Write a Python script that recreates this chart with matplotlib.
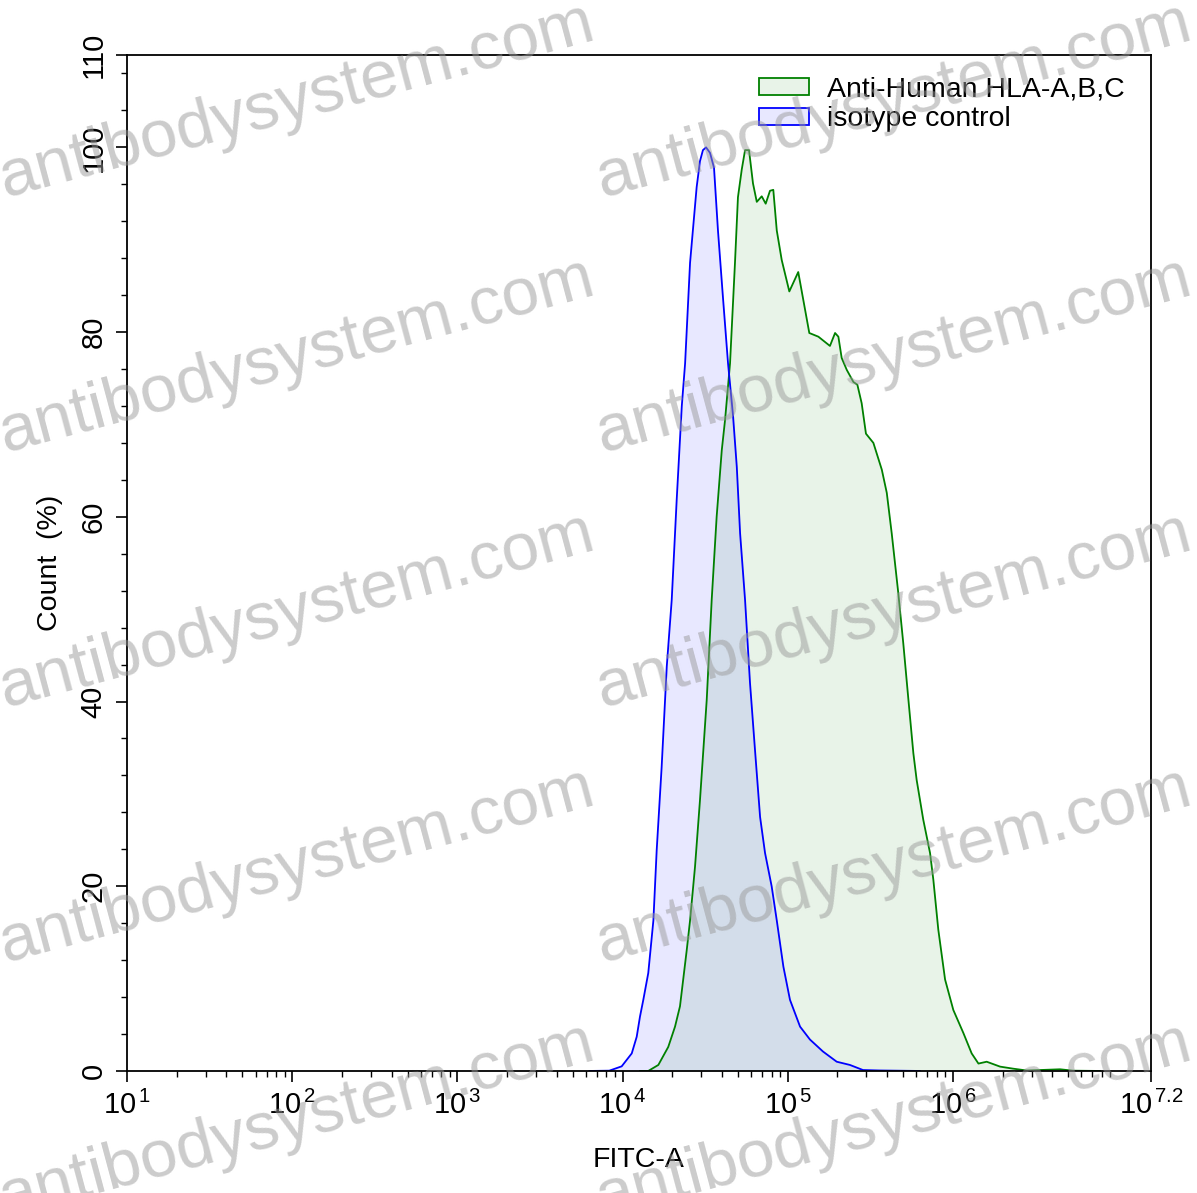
import numpy as np
import matplotlib
matplotlib.use("Agg")
import matplotlib.pyplot as plt
from matplotlib.ticker import FixedLocator, MultipleLocator, LogLocator, NullFormatter
from matplotlib.patches import Patch

plt.rcParams['font.family'] = ['Liberation Sans', 'DejaVu Sans']
plt.rcParams['mathtext.fontset'] = 'custom'
plt.rcParams['mathtext.rm'] = 'Liberation Sans'
plt.rcParams['mathtext.it'] = 'Liberation Sans'

# data (x given as log10 of FITC-A)
iso_log = [3.80, 3.92, 3.995, 4.056, 4.086, 4.106, 4.126, 4.156, 4.187, 4.207, 4.237, 4.268,
           4.298, 4.328, 4.359, 4.379, 4.409, 4.449, 4.469, 4.487, 4.506, 4.530, 4.554, 4.578,
           4.608, 4.639, 4.669, 4.692, 4.712, 4.742, 4.772, 4.802, 4.833, 4.863, 4.903, 4.934,
           4.974, 5.014, 5.075, 5.135, 5.214, 5.297, 5.377, 5.456, 5.559, 5.80]
iso_count = [0, 0.03, 0.5, 1.9, 3.7, 5.9, 7.7, 10.6, 16.3, 23.9, 32.9, 43.8,
             51, 61.8, 72.0, 76.6, 87.5, 95.7, 98.5, 99.7, 100, 99.4, 97.8, 91,
             83.8, 76.6, 71.0, 65.4, 58.2, 51, 42, 34.8, 27.5, 23.6, 20, 16.3,
             11.3, 7.7, 4.8, 3.4, 2.1, 1.0, 0.65, 0.1, 0.05, 0]

hla_log = [4.106, 4.156, 4.217, 4.277, 4.318, 4.348, 4.389, 4.409, 4.439, 4.469, 4.510, 4.540,
           4.570, 4.601, 4.621, 4.651, 4.681, 4.699, 4.722, 4.742, 4.766, 4.790, 4.813, 4.843,
           4.867, 4.893, 4.913, 4.934, 4.964, 5.010, 5.064, 5.131, 5.186, 5.256, 5.287, 5.307,
           5.327, 5.358, 5.398, 5.422, 5.448, 5.474, 5.519, 5.570, 5.600, 5.630, 5.670, 5.700,
           5.731, 5.761, 5.781, 5.821, 5.862, 5.882, 5.912, 5.953, 6.003, 6.064, 6.114, 6.155,
           6.205, 6.286, 6.364, 6.447, 6.528, 6.649, 6.728, 6.891]
hla_count = [0, 0, 0.65, 2.6, 4.8, 7, 13.1, 16.3, 22.1, 29.3, 40.2, 51,
             60, 67.2, 70.5, 76.6, 87.5, 94.6, 97.6, 99.7, 99.7, 96.1, 94.1, 94.7,
             93.9, 95.3, 95.4, 91, 87.8, 84.4, 86.5, 79.9, 79.5, 78.5, 79.9, 79.5,
             77.2, 75.9, 74.6, 74.3, 72.3, 69.0, 68.0, 65.1, 62.6, 58.2, 51.7, 46.3,
             40.2, 34.4, 31.5, 27.2, 23.6, 20.7, 15.3, 9.9, 6.6, 4.1, 1.9, 0.8,
             1.0, 0.47, 0.25, 0.05, 0.1, 0.18, 0.03, 0]

xtick_exp = [1, 2, 3, 4, 5, 6, 7.2]
ytick_vals = [0, 20, 40, 60, 80, 100, 110]

fig = plt.figure(figsize=(11.97, 11.93), dpi=100)
ax = fig.add_axes([0.1061, 0.1023, 0.8555, 0.8516])

hx = 10 ** np.array(hla_log)
ix = 10 ** np.array(iso_log)
ax.fill_between(hx, hla_count, color='green', alpha=0.09, lw=0)
ax.fill_between(ix, iso_count, color='blue', alpha=0.09, lw=0)
ax.plot(hx, hla_count, color='#008000', lw=1.3)
ax.plot(ix, iso_count, color='#0000ff', lw=1.3)

ax.set_xscale('log')
ax.set_xlim(10 ** 1, 10 ** 7.2)
ax.set_ylim(0, 110)

ax.xaxis.set_major_locator(FixedLocator([10 ** e for e in xtick_exp]))
ax.set_xticklabels([r'$10^{\,%g}$' % e for e in xtick_exp], fontsize=21)
ax.xaxis.set_minor_locator(LogLocator(base=10, subs=np.arange(2, 10), numticks=20))
ax.xaxis.set_minor_formatter(NullFormatter())

ax.yaxis.set_major_locator(FixedLocator(ytick_vals))
ax.yaxis.set_minor_locator(MultipleLocator(4))
ax.set_yticklabels([str(v) for v in ytick_vals], fontsize=21, rotation=90, va='center')

ax.tick_params(which='major', direction='out', length=8, width=1.2, pad=6)
ax.tick_params(which='minor', direction='out', length=4, width=1.0)
for s in ax.spines.values():
    s.set_linewidth(1.3)

ax.set_xlabel('FITC-A', fontsize=20.5, labelpad=20)
ax.set_ylabel('Count  (%)', fontsize=20.5, labelpad=12)

handles = [Patch(facecolor=(0, 0.5, 0, 0.09), edgecolor='#008000', lw=1.3),
           Patch(facecolor=(0, 0, 1, 0.09), edgecolor='#0000ff', lw=1.3)]
ax.legend(handles, ['Anti-Human HLA-A,B,C', 'isotype control'], loc='upper right',
          frameon=False, fontsize=20.5, handlelength=1.75, handleheight=0.55,
          labelspacing=0.12, handletextpad=0.65, borderaxespad=0.3,
          bbox_to_anchor=(0.994, 0.998))

# watermark
for row in range(5):
    for col in range(2):
        fig.text((5 + col * 597) / 1197, 1 - (197 + row * 255) / 1193, 'antibodysystem.com',
                 fontsize=48.5, color='#999999', alpha=0.5, rotation=15,
                 rotation_mode='anchor', ha='left', va='baseline', zorder=10)

fig.savefig('out.png', dpi=100)
